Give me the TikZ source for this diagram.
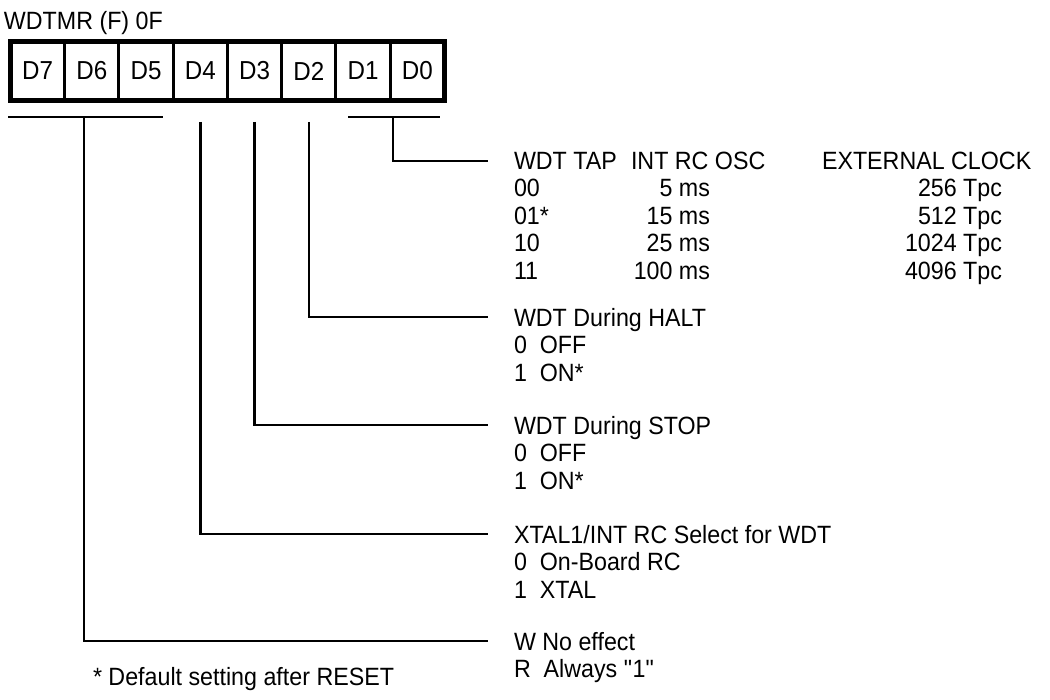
\documentclass[tikz,border=0pt]{standalone}
\usepackage{fontspec}
\setmainfont{Liberation Sans}[FakeStretch=0.93]
\usetikzlibrary{positioning}

\begin{document}
\begin{tikzpicture}[x=1pt, y=-1pt,
          cell/.style={draw, line width=3pt, outer sep=0pt, inner sep=0pt,
                       minimum width=54.25pt, minimum height=59pt,
                       font=\fontsize{26}{26}\selectfont},
          txt/.style={inner sep=0pt, outer sep=0pt, anchor=north west,
                      align=left, font=\fontsize{25}{27.5}\selectfont},
          num/.style={txt, anchor=north east, align=right},
          wire/.style={line width=2.5pt}]
  \useasboundingbox (0,0) rectangle (1050,700);
  \node[txt] (title) at (4,11) {WDTMR (F) 0F};
  % register bits
  \foreach \bit [count=\k from 0] in {7,6,5,4,3,2,1,0}
    \node[cell] (c\bit) at ({37.6+54.25*\k},71) {D\bit};
  \draw[line width=5pt] (c7.north west) rectangle (c0.south east);
  % brackets under D7-D5 and D1-D0
  \coordinate (b75w) at (8,117);   \coordinate (b75e) at (163,117);
  \coordinate (b75) at (84,117);
  \coordinate (b10w) at (348,117); \coordinate (b10e) at (440,117);
  \coordinate (b10) at (393,117);
  \draw[wire] (b75w) -- (b75e);
  \draw[wire] (b10w) -- (b10e);
  % WDT tap table
  \node[txt] (tap) at (514,152) {WDT TAP\\00\\01*\\10\\11};
  \node[txt] (osc) at (631,152) {INT RC OSC};
  \node[num] (oscv) at (710,179.5) {5 ms\\15 ms\\25 ms\\100 ms};
  \node[txt] (ext) at (822,152) {EXTERNAL CLOCK};
  \node[num] (extv) at (1002,179.5) {256 Tpc\\512 Tpc\\1024 Tpc\\4096 Tpc};
  % bit descriptions
  \node[txt] (halt) at (514,308) {WDT During HALT\\0\ \ OFF\\1\ \ ON*};
  \node[txt] (stop) at (514,416) {WDT During STOP\\0\ \ OFF\\1\ \ ON*};
  \node[txt] (xtal) at (514,525) {XTAL1/INT RC Select for WDT\\0\ \ On-Board RC\\1\ \ XTAL};
  \node[txt] (wr) at (514,632) {W No effect\\R\ \ Always \textquotedbl 1\textquotedbl};
  \node[txt] (note) at (93,667) {* Default setting after RESET};
  % connectors
  \draw[wire] (b10) |- ([shift={(-26,9)}]tap.north west);
  \draw[wire] ([yshift=-21.5pt]c2.south) |- ([shift={(-26,9)}]halt.north west);
  \draw[wire] ([yshift=-21.5pt]c3.south) |- ([shift={(-26,9)}]stop.north west);
  \draw[wire] ([yshift=-21.5pt]c4.south) |- ([shift={(-26,9)}]xtal.north west);
  \draw[wire] (b75) |- ([shift={(-26,9)}]wr.north west);
\end{tikzpicture}
\end{document}
